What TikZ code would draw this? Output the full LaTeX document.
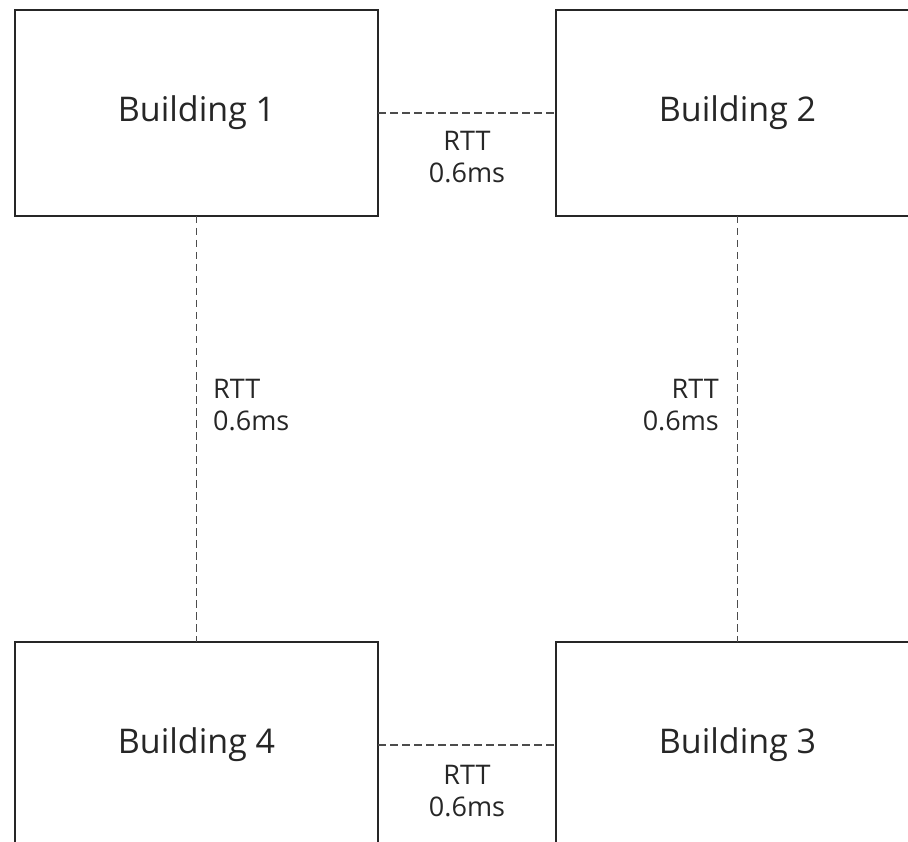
\documentclass[tikz,border=0pt]{standalone}
\usepackage{fontspec}
\setmainfont{Open Sans}
\begin{document}
\begin{tikzpicture}[x=1pt,y=-1pt,
  building/.style={draw=black!85, line width=1.8pt, fill=white, minimum width=363pt, minimum height=206pt, inner sep=0pt, outer sep=0pt, font=\fontsize{34}{40}\selectfont, text=black!85},
  link/.style={draw=black!70, line width=1.4pt, dash pattern=on 7.5pt off 4.5pt},
  rtt/.style={font=\fontsize{27}{32}\selectfont, text=black!85, inner sep=0pt}]
\useasboundingbox (0,0) rectangle (908,842);
\clip (0,0) rectangle (908,842);
\node[building] (b1) at (196.5,113) {\raisebox{4pt}{Building 1}};
\node[building] (b2) at (737.5,113) {\raisebox{4pt}{Building 2}};
\node[building] (b4) at (196.5,745) {\raisebox{4pt}{Building 4}};
\node[building] (b3) at (737.5,745) {\raisebox{4pt}{Building 3}};
\draw[link] (b1.east) -- (b2.west);
\draw[link] (b1.south) -- (b4.north);
\draw[link] (b2.south) -- (b3.north);
\draw[link] (b4.east) -- (b3.west);
\node[rtt, align=center, anchor=north] (l12) at (467,131) {RTT\\0.6ms};
\node[rtt, align=left, anchor=west] (l14) at (213,405) {RTT\\0.6ms};
\node[rtt, align=right, anchor=east] (l23) at (719,405) {RTT\\0.6ms};
\node[rtt, align=center, anchor=north] (l43) at (467,765) {RTT\\0.6ms};
\end{tikzpicture}
\end{document}
